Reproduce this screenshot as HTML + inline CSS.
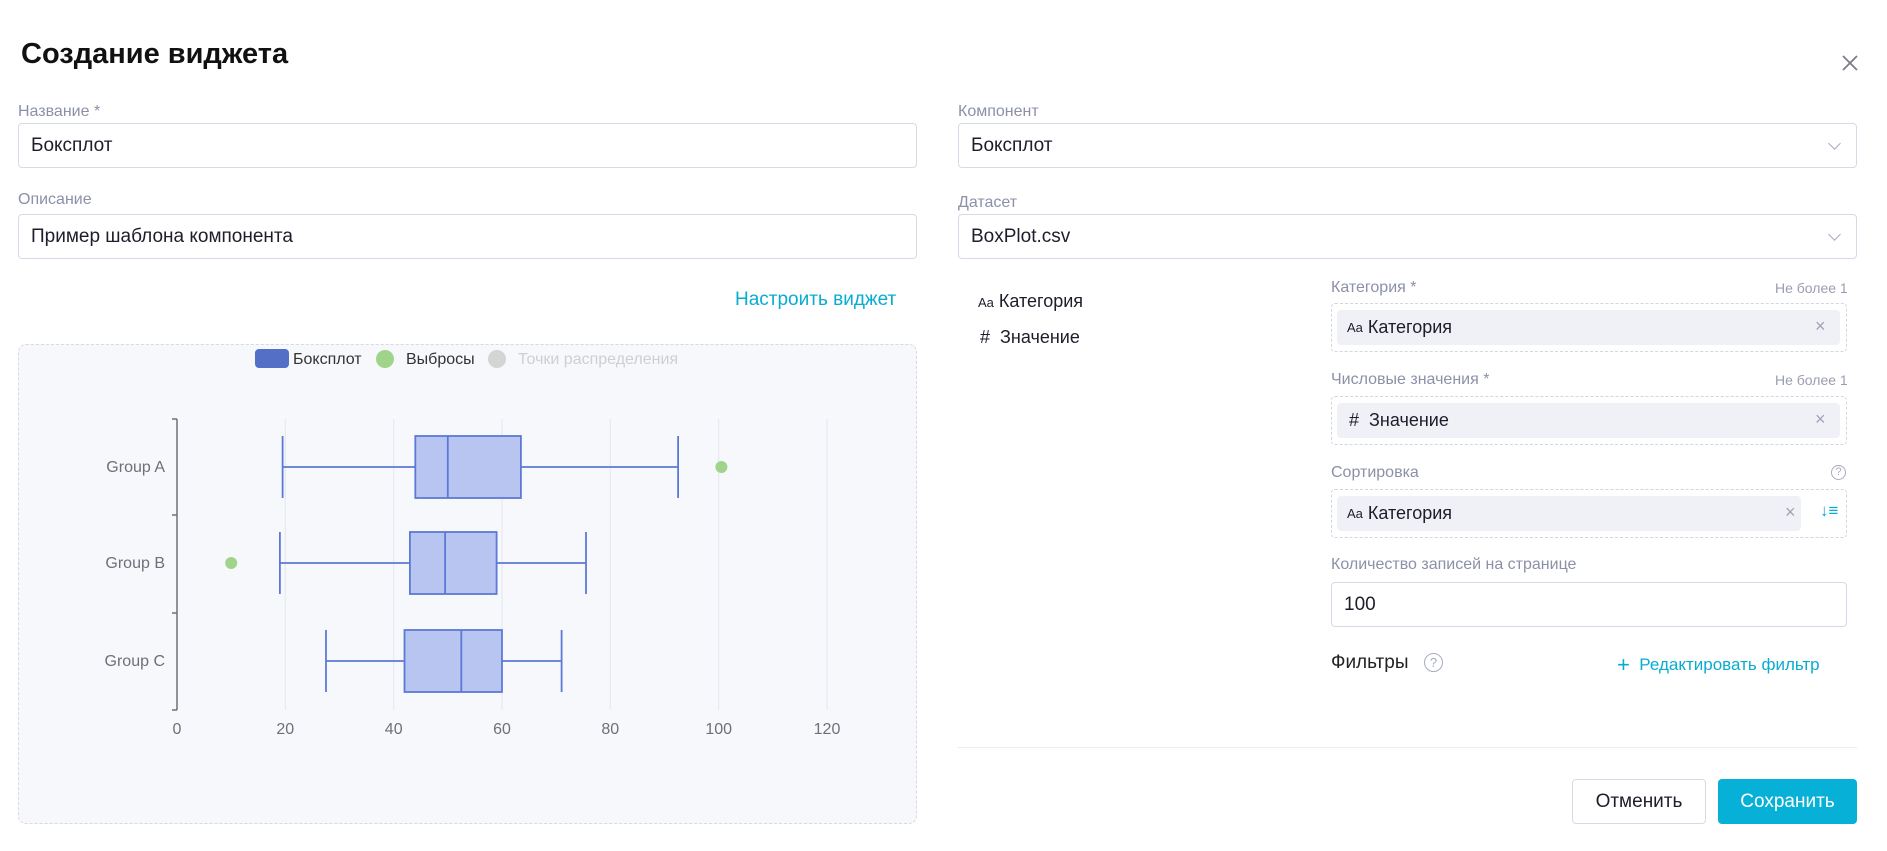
<!DOCTYPE html>
<html><head><meta charset="utf-8"><style>
*{box-sizing:border-box;margin:0;padding:0}
body{width:1887px;height:851px;background:#fff;position:relative;overflow:hidden;font-family:"Liberation Sans","DejaVu Sans",sans-serif;color:#1d1d2b}
.a{position:absolute;white-space:nowrap}
.lbl{font-size:16px;color:#8c90a8}
.inp{position:absolute;border:1px solid #d8d9e6;border-radius:4px;background:#fff;font-size:19px;padding-left:12px;display:flex;align-items:center}
.dash{position:absolute;border:1px dashed #d3d5e2;border-radius:4px}
.chip{position:absolute;background:#f0f1f6;border-radius:4px;font-size:18px;display:flex;align-items:center;padding-left:10px}
.x{position:absolute;color:#a0a3b6;font-size:18px}
.chev{position:absolute;width:9px;height:9px;border-right:1.3px solid #a8abbd;border-bottom:1.3px solid #a8abbd;transform:rotate(45deg)}
</style></head><body>
<div class="a" style="left:21px;top:38px;font-size:29px;font-weight:bold;color:#111">Создание виджета</div>
<svg class="a" style="left:1842px;top:55px" width="16" height="16"><path d="M1 1L15 15M15 1L1 15" stroke="#7a7d90" stroke-width="1.8"/></svg>

<div class="a lbl" style="left:18px;top:103px">Название *</div>
<div class="inp" style="left:18px;top:123px;width:899px;height:45px">Боксплот</div>
<div class="a lbl" style="left:18px;top:191px">Описание</div>
<div class="inp" style="left:18px;top:214px;width:899px;height:45px">Пример шаблона компонента</div>
<div class="a" style="left:735px;top:289px;font-size:19px;color:#08acd3">Настроить виджет</div>

<div style="position:absolute;left:18px;top:344px;width:899px;height:480px;background:#f7f8fc;border:1px dashed #d8d9e3;border-radius:8px"></div>
<svg class="a" style="left:0;top:0" width="1887" height="851" xmlns="http://www.w3.org/2000/svg" font-family="Liberation Sans, sans-serif">
<rect x="255" y="349" width="34" height="19" rx="4" fill="#5470c6"/>
<text x="293" y="364" font-size="16" fill="#333">Боксплот</text>
<circle cx="385" cy="359" r="9" fill="#a0d48a"/>
<text x="406" y="364" font-size="16" fill="#333">Выбросы</text>
<circle cx="497" cy="359" r="9" fill="#d4d4d4"/>
<text x="518" y="364" font-size="16" fill="#cfcfcf">Точки распределения</text>
<g stroke="#e4e6ef" stroke-width="1">
<line x1="285.3" y1="419" x2="285.3" y2="710"/><line x1="393.7" y1="419" x2="393.7" y2="710"/><line x1="502" y1="419" x2="502" y2="710"/><line x1="610.3" y1="419" x2="610.3" y2="710"/><line x1="718.7" y1="419" x2="718.7" y2="710"/><line x1="827" y1="419" x2="827" y2="710"/>
</g>
<g stroke="#6e7079" stroke-width="1.5" fill="none">
<line x1="177" y1="419" x2="177" y2="710"/>
<line x1="172" y1="419" x2="177" y2="419"/><line x1="172" y1="515" x2="177" y2="515"/><line x1="172" y1="613" x2="177" y2="613"/><line x1="172" y1="710" x2="177" y2="710"/>
</g>
<g font-size="16" fill="#6e7079" text-anchor="end">
<text x="165" y="472">Group A</text><text x="165" y="568">Group B</text><text x="165" y="666">Group C</text>
</g>
<g font-size="16" fill="#6e7079" text-anchor="middle">
<text x="177" y="734">0</text><text x="285.3" y="734">20</text><text x="393.7" y="734">40</text><text x="502" y="734">60</text><text x="610.3" y="734">80</text><text x="718.7" y="734">100</text><text x="827" y="734">120</text>
</g>
<g stroke="#5d79d6" stroke-width="1.8" fill="#b7c5f0">
<line x1="282.6" y1="467" x2="415.3" y2="467"/><line x1="520.9" y1="467" x2="678.1" y2="467"/>
<line x1="282.6" y1="436" x2="282.6" y2="498"/><line x1="678.1" y1="436" x2="678.1" y2="498"/>
<rect x="415.3" y="436" width="105.6" height="62"/><line x1="447.8" y1="436" x2="447.8" y2="498"/>
<line x1="279.9" y1="563" x2="409.9" y2="563"/><line x1="496.6" y1="563" x2="586" y2="563"/>
<line x1="279.9" y1="532" x2="279.9" y2="594"/><line x1="586" y1="532" x2="586" y2="594"/>
<rect x="409.9" y="532" width="86.7" height="62"/><line x1="445.1" y1="532" x2="445.1" y2="594"/>
<line x1="326" y1="661" x2="404.5" y2="661"/><line x1="502" y1="661" x2="561.6" y2="661"/>
<line x1="326" y1="630" x2="326" y2="692"/><line x1="561.6" y1="630" x2="561.6" y2="692"/>
<rect x="404.5" y="630" width="97.5" height="62"/><line x1="461.3" y1="630" x2="461.3" y2="692"/>
</g>
<circle cx="721.4" cy="467" r="6" fill="#a0d48a"/>
<circle cx="231.2" cy="563" r="6" fill="#a0d48a"/>
</svg>

<div class="a lbl" style="left:958px;top:103px">Компонент</div>
<div class="inp" style="left:958px;top:123px;width:899px;height:45px">Боксплот</div>
<div class="chev" style="left:1830px;top:139px"></div>
<div class="a lbl" style="left:958px;top:194px">Датасет</div>
<div class="inp" style="left:958px;top:214px;width:899px;height:45px">BoxPlot.csv</div>
<div class="chev" style="left:1830px;top:230px"></div>

<div class="a" style="left:978px;top:291px;font-size:18px"><span style="font-size:13px">Aa</span> Категория</div>
<div class="a" style="left:980px;top:327px;font-size:18px"># &nbsp;Значение</div>

<div class="a lbl" style="left:1331px;top:279px">Категория *</div>
<div class="a" style="left:1775px;top:280px;font-size:14px;color:#9a9db0">Не более 1</div>
<div class="dash" style="left:1331px;top:303px;width:516px;height:49px"></div>
<div class="chip" style="left:1337px;top:310px;width:503px;height:35px"><span style="font-size:13px;margin-right:5px">Aa</span>Категория</div>
<div class="x" style="left:1815px;top:316px">×</div>

<div class="a lbl" style="left:1331px;top:371px">Числовые значения *</div>
<div class="a" style="left:1775px;top:372px;font-size:14px;color:#9a9db0">Не более 1</div>
<div class="dash" style="left:1331px;top:396px;width:516px;height:49px"></div>
<div class="chip" style="left:1337px;top:403px;width:503px;height:35px;padding-left:12px"># &nbsp;Значение</div>
<div class="x" style="left:1815px;top:409px">×</div>

<div class="a lbl" style="left:1331px;top:464px">Сортировка</div>
<div class="a" style="left:1831px;top:465px;width:15px;height:15px;border:1px solid #a8abbd;border-radius:50%;font-size:11px;color:#a8abbd;text-align:center;line-height:13px">?</div>
<div class="dash" style="left:1331px;top:489px;width:516px;height:49px"></div>
<div class="chip" style="left:1337px;top:496px;width:464px;height:35px"><span style="font-size:13px;margin-right:5px">Aa</span>Категория</div>
<div class="x" style="left:1785px;top:502px">×</div>
<div class="a" style="left:1820px;top:501px;font-size:17px;color:#08acd3">↓≡</div>

<div class="a lbl" style="left:1331px;top:556px">Количество записей на странице</div>
<div class="inp" style="left:1331px;top:582px;width:516px;height:45px">100</div>

<div class="a" style="left:1331px;top:652px;font-size:19px;color:#222">Фильтры</div>
<div class="a" style="left:1424px;top:653px;width:19px;height:19px;border:1px solid #a8abbd;border-radius:50%;font-size:13px;color:#a8abbd;text-align:center;line-height:17px">?</div>
<div class="a" style="left:1617px;top:652px;font-size:17px;color:#08acd3"><span style="font-size:22px;font-weight:300;vertical-align:-2px">+</span>&nbsp; Редактировать фильтр</div>

<div class="a" style="left:958px;top:747px;width:899px;height:1px;background:#ebecf2"></div>
<div class="a" style="left:1572px;top:779px;width:134px;height:45px;border:1px solid #d8d9e6;border-radius:4px;font-size:19px;display:flex;align-items:center;justify-content:center">Отменить</div>
<div class="a" style="left:1718px;top:779px;width:139px;height:45px;background:#06b0d6;border-radius:4px;font-size:19px;color:#fff;display:flex;align-items:center;justify-content:center">Сохранить</div>
</body></html>
